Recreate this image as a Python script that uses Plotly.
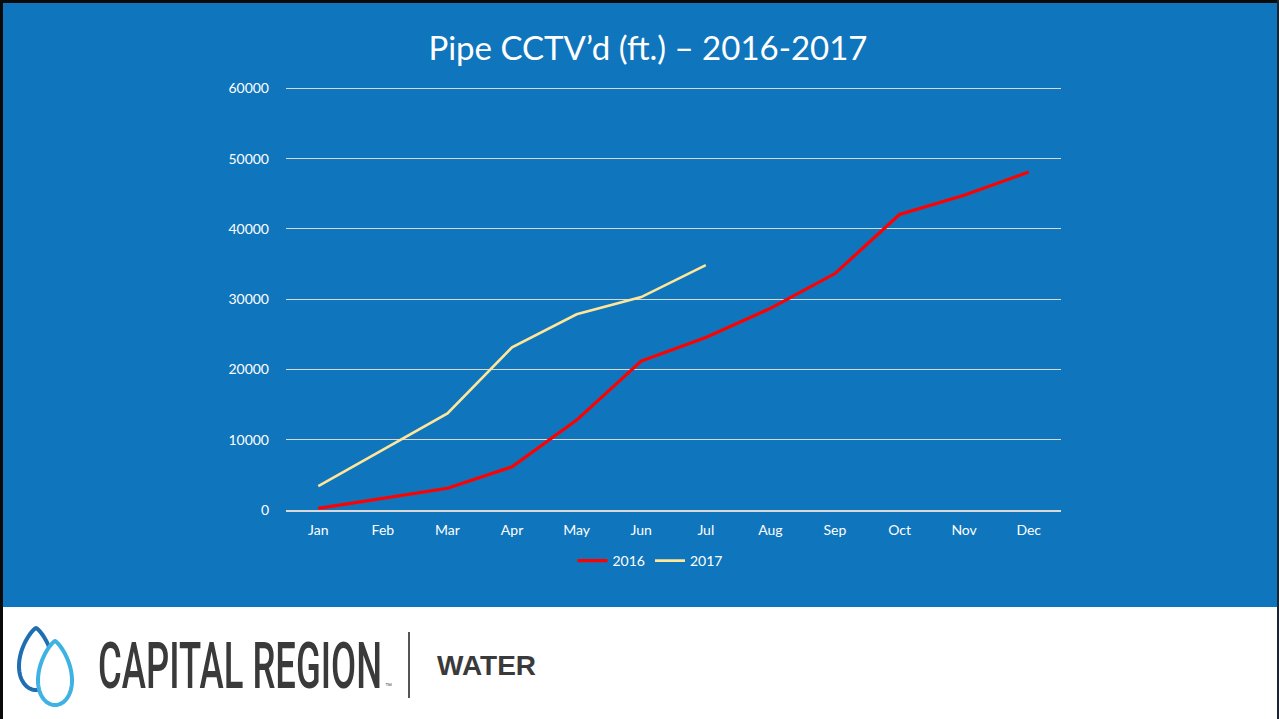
import numpy as np
import plotly.graph_objects as go

months = ["Jan", "Feb", "Mar", "Apr", "May", "Jun", "Jul", "Aug", "Sep", "Oct", "Nov", "Dec"]
y2016 = [240, 1700, 3100, 6150, 12800, 21200, 24550, 28700, 33650, 42050, 44800, 48100]
months2017 = ["Jan", "Feb", "Mar", "Apr", "May", "Jun", "Jul"]
y2017 = [3400, 8600, 13750, 23150, 27850, 30300, 34850]
y_ticks = [0, 10000, 20000, 30000, 40000, 50000, 60000]

W, H = 1279, 719
BLUE = "#0F75BC"
FONT = "Lato, Calibri, Carlito, sans-serif"


def px(x):
    return x / W


def py(y):
    return 1 - y / H


def drop_path(cx, top, bottom, half_w, n=120):
    # teardrop outline (decorative logo), pixel -> paper coords
    t = np.linspace(0, 2 * np.pi, n)
    xs = np.sin(t) * np.abs(np.sin(t / 2)) ** 0.6
    ys = np.cos(t)
    xs = xs / np.abs(xs).max()
    pts = []
    for a, b in zip(xs, ys):
        X = cx + a * half_w
        Y = top + (1 - b) / 2 * (bottom - top)
        pts.append(f"{px(X):.5f},{py(Y):.5f}")
    return "M" + " L".join(pts) + " Z"


fig = go.Figure()
fig.add_trace(go.Scatter(x=months, y=y2016, mode="lines", name="2016",
                         line=dict(color="#FF0000", width=3.2)))
fig.add_trace(go.Scatter(x=months2017, y=y2017, mode="lines", name="2017",
                         line=dict(color="#FFE699", width=2.6)))

shapes = [
    dict(type="rect", xref="paper", yref="paper", x0=0, x1=1, y0=0, y1=py(607),
         fillcolor="white", line=dict(width=0), layer="below"),
    dict(type="path", xref="paper", yref="paper", path=drop_path(36, 628, 690, 17),
         line=dict(color="#1F6DB3", width=4), fillcolor="rgba(0,0,0,0)"),
    dict(type="path", xref="paper", yref="paper", path=drop_path(55, 641, 705, 17),
         line=dict(color="#3FB2E4", width=4), fillcolor="white"),
    dict(type="line", xref="paper", yref="paper", x0=px(409), x1=px(409), y0=py(632), y1=py(698),
         line=dict(color="#555555", width=2)),
    dict(type="line", xref="paper", yref="paper", x0=px(1.5), x1=px(1.5), y0=0, y1=1,
         line=dict(color="#0a0a0a", width=3)),
    dict(type="line", xref="paper", yref="paper", x0=0, x1=1, y0=py(1.5), y1=py(1.5),
         line=dict(color="#0a0a0a", width=3)),
    dict(type="line", xref="paper", yref="paper", x0=px(1278), x1=px(1278), y0=0, y1=1,
         line=dict(color="#1a2530", width=2)),
]

annotations = [
    dict(text="CAPITAL REGION", xref="paper", yref="paper",
         x=px(96), y=py(666), xanchor="left", yanchor="middle", showarrow=False,
         font=dict(family="Roboto, sans-serif", size=64, color="#3A3A3A", weight=500)),
    dict(text="™", xref="paper", yref="paper", x=px(383), y=py(685),
         xanchor="left", yanchor="middle", showarrow=False,
         font=dict(family="Liberation Sans", size=7, color="#555555")),
    dict(text="<b>WATER</b>", xref="paper", yref="paper", x=px(435), y=py(665),
         xanchor="left", yanchor="middle", showarrow=False,
         font=dict(family="Liberation Sans, sans-serif", size=28, color="#3A3A3A")),
]

fig.update_layout(
    width=W, height=H,
    margin=dict(l=0, r=0, t=0, b=0, autoexpand=False),
    paper_bgcolor=BLUE,
    plot_bgcolor=BLUE,
    title=dict(text="Pipe CCTV’d (ft.) – 2016-2017", x=px(648), y=py(48),
               xanchor="center", yanchor="middle", xref="paper", yref="paper",
               font=dict(family=FONT, size=33, color="white")),
    font=dict(family=FONT, color="white", size=14),
    showlegend=True,
    legend=dict(orientation="h", x=px(650), y=py(561), xanchor="center", yanchor="middle",
                bgcolor="rgba(0,0,0,0)", font=dict(size=14, color="white"),
                tracegroupgap=0),
    xaxis=dict(domain=[px(286), px(1061)], categoryorder="array", categoryarray=months,
               range=[-0.5, 11.5], showgrid=False, zeroline=False,
               showline=True, linecolor="#D9D9D9", linewidth=2,
               ticks="", ticklabelstandoff=6, tickfont=dict(size=14, color="white"),
               fixedrange=True),
    yaxis=dict(domain=[py(510), py(87)], range=[0, 60200], tickvals=y_ticks,
               ticktext=[str(v) for v in y_ticks],
               showgrid=True, gridcolor="#D9D9D9", gridwidth=1, zeroline=False,
               showline=False, ticks="", ticklabelstandoff=16,
               tickfont=dict(size=14, color="white"), fixedrange=True),
    shapes=shapes,
    annotations=annotations,
)

post = """
document.body.style.margin='0';
document.body.style.overflow='hidden';
var ts = document.querySelectorAll('text.annotation-text');
ts.forEach(function(el){
  if (el.textContent.indexOf('CAPITAL REGION') >= 0) {
    var w = el.getBBox().width;
    var s = 284 / w;
    el.style.transformBox = 'fill-box';
    el.style.transformOrigin = '0% 50%';
    el.style.transform = 'scaleX(' + s + ')';
  }
});
"""

fig.write_html("out.html", post_script=post, config={"displayModeBar": False})
